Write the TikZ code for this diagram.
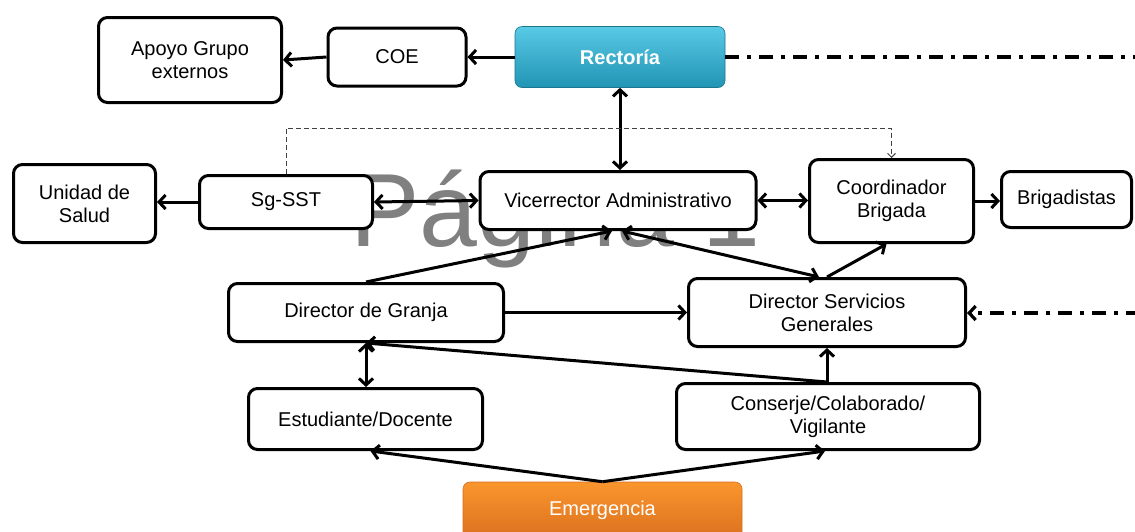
\documentclass[tikz,border=0pt]{standalone}
\usepackage{fontspec}
\setmainfont{Liberation Sans}
\usetikzlibrary{arrows.meta,calc}
\definecolor{tealtop}{RGB}{88,202,230}
\definecolor{tealbot}{RGB}{34,148,180}
\definecolor{orgtop}{RGB}{250,150,45}
\definecolor{orgbot}{RGB}{218,110,30}
\begin{document}
\begin{tikzpicture}[x=1pt,y=-1pt,
  box/.style={draw=black, line width=3pt, rounded corners=9pt, fill=white,
    align=center, inner sep=0pt, font=\fontsize{20}{23}\selectfont},
  sz/.style 2 args={minimum width=#1, minimum height=#2},
  conn/.style={line width=3pt, draw=black},
  tip/.style={-{Straight Barb[length=6.5pt,width=14pt]}},
  dtip/.style={{Straight Barb[length=6.5pt,width=14pt]}-{Straight Barb[length=6.5pt,width=14pt]}},
  dashdot/.style={line width=3.2pt, dash pattern=on 14pt off 8pt on 4pt off 8pt},
]
\clip (0,0) rectangle (1135,531);
\fill[white] (0,0) rectangle (1135,531);

% watermark
\node[anchor=base west, inner sep=0pt, text=black!50, font=\fontsize{104}{104}\selectfont] (wm) at (350,246) {Página 1};

% nodes
\node[box, sz={183}{85}] (apoyo) at (190,60) {Apoyo Grupo\\externos};
\node[box, sz={138}{58}] (coe) at (397,57) {COE};
\node[draw=tealbot!80!black, line width=0.6pt, rounded corners=7pt, top color=tealtop, bottom color=tealbot,
      sz={210}{61}, inner sep=0pt, text=white, font=\bfseries\fontsize{20}{23}\selectfont] (rect) at (620,57) {Rectoría};
\node[box, sz={142}{78}] (unidad) at (84.5,203.5) {Unidad de\\Salud};
\node[box, sz={173}{53}] (sgsst) at (286,202) {Sg-SST};
\node[box, sz={276}{58}] (vice) at (618,200.5) {Vicerrector Administrativo};
\node[box, sz={164}{83}] (coord) at (891.5,201) {Coordinador\\Brigada};
\node[box, sz={130}{56}] (brig) at (1066.5,199.5) {Brigadistas};
\node[box, sz={275}{58}] (granja) at (366,312.5) {Director de Granja};
\node[box, sz={277}{68}] (dsg) at (827,312.5) {Director Servicios\\Generales};
\node[box, sz={234}{61}] (estud) at (365.5,419) {Estudiante/Docente};
\node[box, sz={303}{66}] (conserje) at (828,416.5) {Conserje/Colaborado/\\Vigilante};
\node[draw=orgbot, line width=0.6pt, rounded corners=7pt, top color=orgtop, bottom color=orgbot,
      sz={279}{60}, inner sep=0pt, text=white, font=\fontsize{20}{23}\selectfont, text depth=0pt] (emerg) at (602.5,512) {\raisebox{7pt}{Emergencia}};

\coordinate (rightA) at (1140,57);
\coordinate (rightB) at (1140,313);

% connectors
\draw[conn, tip] (rect.west) -- (coe.east);
\draw[conn, tip] (coe.west) -- (apoyo.east);
\draw[dashdot] (rect.east) -- (rightA);
\draw[conn, dtip] (rect.south) -- (rect.south |- vice.north);
\draw[line width=0.9pt, draw=black!75, dash pattern=on 5pt off 3pt, -{Straight Barb[length=4pt,width=8pt]}]
  (sgsst.north) -- ++(0,-46) -| (coord.north);
\draw[conn, tip] (sgsst.west) -- (sgsst.west -| unidad.east);
\draw[conn, dtip] (sgsst.east) -- (vice.west);
\draw[conn, dtip] (vice.east) -- (vice.east -| coord.west);
\draw[conn, tip] (coord.east) -- (coord.east -| brig.west);
\draw[conn, tip] (granja.north) -- ($(vice.south)+(-6,0)$);
\draw[conn, dtip] ($(vice.south)+(4,0)$) -- ($(dsg.north)+(-8,0)$);
\draw[conn, tip] (dsg.north) -- ($(coord.south)+(-5,0)$);
\draw[conn, tip] (granja.east) -- (granja.east -| dsg.west);
\draw[conn, dtip] (granja.south) -- (granja.south |- estud.north);
\draw[conn, tip] (conserje.north -| dsg.south) -- (dsg.south);
\draw[conn, tip] (conserje.north -| dsg.south) -- (granja.south);
\draw[conn, tip] (emerg.north) -- ($(estud.south)+(5,0)$);
\draw[conn, tip] (emerg.north) -- ($(conserje.south)+(-3,0)$);
\draw[dashdot, -{Straight Barb[length=6.5pt,width=14pt]}] (rightB) -- (rightB -| dsg.east);
\end{tikzpicture}
\end{document}
